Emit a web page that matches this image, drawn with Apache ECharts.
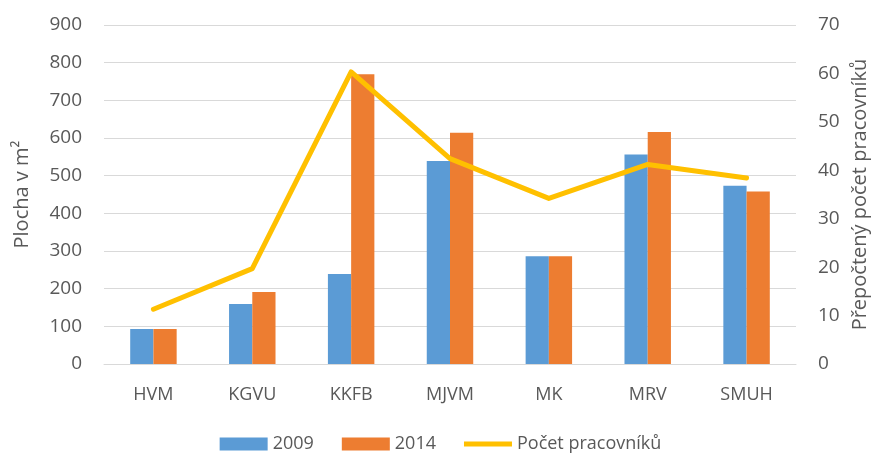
<!DOCTYPE html>
<html>
<head>
<meta charset="utf-8">
<script src="https://cdn.jsdelivr.net/npm/echarts@6/dist/echarts.min.js"></script>
<style>
  html, body { margin: 0; padding: 0; background: #fff; }
  #chart { width: 881px; height: 460px; }
</style>
</head>
<body>
<div id="chart"></div>
<script>
// data
const categories = ['HVM', 'KGVU', 'KKFB', 'MJVM', 'MK', 'MRV', 'SMUH'];
const area2009 = [93, 159, 239, 539, 286, 556, 473];
const area2014 = [93, 191, 769, 614, 286, 616, 458];
const staff = [11.3, 19.7, 60.3, 42.4, 34.2, 41.2, 38.4];

const font = '"Open Sans", "Liberation Sans", sans-serif';
const grey = '#595959';

const chart = echarts.init(document.getElementById('chart'));
chart.setOption({
  animation: false,
  textStyle: { fontFamily: font },
  grid: { left: 104, right: 85, top: 25, bottom: 96 },
  legend: {
    bottom: 2,
    itemGap: 28,
    itemWidth: 48,
    itemHeight: 13,
    textStyle: { fontSize: 18, color: grey, fontFamily: font },
    data: [
      { name: '2009', icon: 'rect' },
      { name: '2014', icon: 'rect' },
      { name: 'Počet pracovníků', icon: 'path://M0,0 H100 V10 H0 Z' }
    ]
  },
  xAxis: {
    type: 'category',
    data: categories,
    axisLine: { lineStyle: { color: '#d9d9d9', width: 1 } },
    axisTick: { show: false },
    axisLabel: { fontSize: 18, color: grey, margin: 22 }
  },
  yAxis: [
    {
      type: 'value', min: 0, max: 900, interval: 100,
      name: 'Plocha v m²', nameLocation: 'middle', nameGap: 72,
      nameTextStyle: { fontSize: 20, color: grey },
      axisLabel: { fontSize: 19, color: grey, margin: 22 },
      splitLine: { lineStyle: { color: '#d9d9d9', width: 1 } }
    },
    {
      type: 'value', min: 0, max: 70, interval: 10,
      name: 'Přepočtený počet pracovníků', nameLocation: 'middle', nameGap: 54,
      nameRotate: 90,
      nameTextStyle: { fontSize: 20, color: grey },
      axisLabel: { fontSize: 19, color: grey, margin: 22 },
      splitLine: { show: false }
    }
  ],
  series: [
    {
      name: '2009', type: 'bar', data: area2009,
      itemStyle: { color: '#5B9BD5' },
      barGap: '0%', barCategoryGap: '53%'
    },
    {
      name: '2014', type: 'bar', data: area2014,
      itemStyle: { color: '#ED7D31' },
      barGap: '0%', barCategoryGap: '53%'
    },
    {
      name: 'Počet pracovníků', type: 'line', yAxisIndex: 1, data: staff,
      symbol: 'none',
      lineStyle: { color: '#FFC000', width: 5, cap: 'round', join: 'round' },
      itemStyle: { color: '#FFC000' }
    }
  ]
});
</script>
</body>
</html>
